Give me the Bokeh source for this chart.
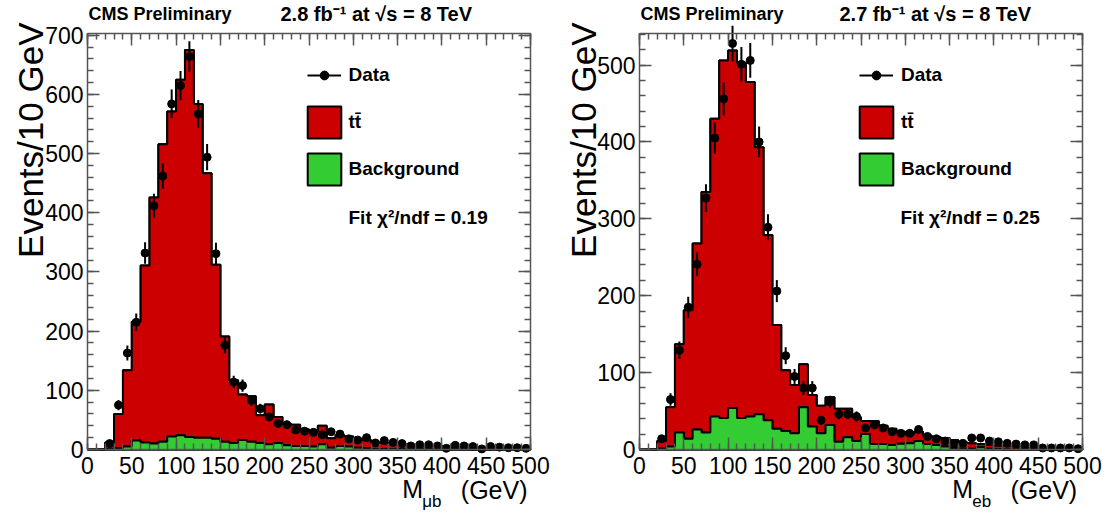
import numpy as np
from bokeh.plotting import figure
from bokeh.models import Range1d, LinearAxis, FixedTicker, Label, Legend, LegendItem
from bokeh.layouts import row
from bokeh.embed import file_html
from bokeh.resources import INLINE

# ---------------- data ----------------
bin_edges = list(range(0, 510, 10))  # 0 .. 500 GeV, 10 GeV bins

left_ttbar_plus_bkg = [0, 0, 12, 60, 134, 216, 311, 426, 516, 571,
                       625, 675, 584, 467, 312, 191, 117, 93, 90, 58,
                       76, 55, 43, 42, 34, 31, 40, 19, 24, 22,
                       18, 16, 12, 11, 11, 9, 8, 7, 6, 6,
                       5, 4, 4, 3, 3, 3, 2, 2, 2, 1]
left_background = [0, 0, 0.5, 2, 5, 15, 12, 10, 13, 22,
                   24, 21, 20, 20, 18, 13, 11, 16, 13, 11,
                   9, 11, 7, 6, 6, 5, 9, 3, 6, 5,
                   3, 2, 1, 1, 1, 1, 1, 0.5, 0.5, 0.5,
                   0.5, 0, 0, 0, 0, 0, 0, 0, 0, 0]
left_data = [0, 0, 10, 75, 163, 215, 332, 412, 462, 584,
             615, 664, 567, 494, 331, 176, 114, 108, 83, 69,
             55, 44, 42, 33, 31, 29, 25, 30, 26, 18,
             16, 20, 11, 15, 12, 10, 6, 8, 8, 6,
             2, 7, 6, 5, 1, 5, 4, 3, 3, 2]

right_ttbar_plus_bkg = [0, 0, 11, 55, 137, 181, 268, 335, 430, 506,
                        519, 503, 478, 393, 279, 162, 103, 84, 111, 71,
                        57, 68, 53, 53, 42, 37, 37, 31, 27, 23,
                        20, 23, 18, 16, 15, 12, 9, 8, 7, 6,
                        5, 5, 4, 3, 3, 2, 2, 2, 1, 1]
right_background = [0, 0, 1, 4, 22, 14, 26, 22, 43, 41,
                    54, 41, 43, 46, 38, 27, 24, 21, 55, 30,
                    21, 32, 10, 16, 11, 20, 7, 7, 6, 7.5,
                    8, 11, 7, 6, 4, 2, 1, 1, 3, 1,
                    0.5, 0, 0, 0, 0, 0, 0, 0, 0, 0]
right_data = [0, 0, 14, 65, 129, 185, 241, 327, 405, 456,
              528, 501, 506, 400, 289, 206, 122, 95, 80, 80,
              38, 62, 46, 46, 43, 28, 32, 28, 23, 21,
              21, 26, 17, 14, 11, 8, 8, 15, 15, 11,
              10, 8, 7, 6, 6, 2, 2, 2, 2, 1]

x_major_ticks = list(range(0, 550, 50))
x_minor_ticks = list(range(0, 510, 10))
left_ymax = 703
right_ymax = 541
left_y_major = list(range(0, 800, 100))
left_y_minor = list(range(0, 720, 20))
right_y_major = list(range(0, 600, 100))
right_y_minor = list(range(0, 560, 20))

# ---------------- style / layout ----------------
RED = "#cc0000"
GREEN = "#33cc33"
AX = "#555555"
FONT = "Liberation Sans"
PAGE = 0
FIG_H = 513
BOX_TOP, BOX_BOTTOM = 33, 449


def make_panel(mc, bkg, data, ymax, y_major, y_minor, page_left, fig_w, box_left, box_right, cfg):
    box_w = box_right - box_left
    box_h = BOX_BOTTOM - BOX_TOP
    fig_bottom = PAGE + FIG_H

    def gx(px):
        return (px - box_left) / box_w * 500.0

    def vy(py):
        return (BOX_BOTTOM - py) / box_h * ymax

    p = figure(width=fig_w, height=FIG_H,
               x_range=Range1d(gx(page_left), gx(page_left + fig_w)),
               y_range=Range1d(vy(fig_bottom), vy(PAGE)),
               x_axis_type=None, y_axis_type=None, title=None,
               output_backend="svg", toolbar_location=None, min_border=0,
               background_fill_color="white", border_fill_color="white")
    p.outline_line_color = None

    edges = np.array(bin_edges, dtype=float)
    mc_a = np.array(mc, dtype=float)
    bk_a = np.array(bkg, dtype=float)
    mc_y = np.append(mc_a, mc_a[-1])
    bk_y = np.append(bk_a, bk_a[-1])
    zeros = np.zeros_like(edges)

    # stacked histogram: ttbar + background (red), background (green)
    r_tt = p.quad(left=edges[:-1], right=edges[1:], bottom=0, top=mc_a,
                  fill_color=RED, line_color="black", line_width=2)
    p.varea_step(x=edges, y1=zeros, y2=mc_y, step_mode="after", fill_color=RED)
    p.step(x=edges, y=mc_y, mode="after", line_color="black", line_width=2)
    r_bk = p.quad(left=edges[:-1], right=edges[1:], bottom=0, top=bk_a,
                  fill_color=GREEN, line_color="black", line_width=2)
    p.varea_step(x=edges, y1=zeros, y2=bk_y, step_mode="after", fill_color=GREEN)
    p.step(x=edges, y=bk_y, mode="after", line_color="black", line_width=2)

    # data points with Poisson error bars
    d = np.array(data, dtype=float)
    centers = (edges[:-1] + edges[1:]) / 2.0
    m = d > 0
    xc = centers[m]
    yd = d[m]
    err = np.sqrt(yd)
    r_err = p.segment(x0=xc, y0=yd - err, x1=xc, y1=yd + err,
                      line_color="black", line_width=2)
    r_pts = p.scatter(x=xc, y=yd, size=8, marker="circle",
                      fill_color="black", line_color="black")

    # frame axes, ticks inside on all four sides
    specs = [("below", x_major_ticks, x_minor_ticks, 0, True),
             ("above", x_major_ticks, x_minor_ticks, ymax, False),
             ("left", y_major, y_minor, 0, True),
             ("right", y_major, y_minor, 500, False)]
    for loc, major, minor, fixed, show in specs:
        bounds = (0, 500) if loc in ("below", "above") else (0, ymax)
        ax = LinearAxis(ticker=FixedTicker(ticks=major, minor_ticks=minor),
                        fixed_location=fixed, bounds=bounds,
                        major_tick_in=12, major_tick_out=0,
                        minor_tick_in=6, minor_tick_out=0,
                        axis_line_color=AX, axis_line_width=1.5,
                        major_tick_line_color=AX, major_tick_line_width=1.5,
                        minor_tick_line_color=AX, minor_tick_line_width=1.5)
        if show:
            ax.major_label_text_font = FONT
            ax.major_label_text_font_size = "23px"
            ax.major_label_text_color = "black"
            ax.major_label_standoff = 7 if loc == "below" else 4
        else:
            ax.major_label_text_color = None
            ax.major_label_standoff = 0
        p.add_layout(ax, loc)

    # legends (location = bottom-left corner, relative to frame bottom-left)
    def loc(left_px, bottom_px):
        return (left_px - page_left, fig_bottom - bottom_px)

    lg_data = Legend(items=[LegendItem(label="Data", renderers=[r_err, r_pts])],
                     location=loc(cfg["leg_x"], 86), glyph_width=34, glyph_height=22,
                     label_standoff=8, padding=0, margin=0, spacing=0,
                     border_line_color=None, background_fill_alpha=0,
                     label_text_font=FONT, label_text_font_style="bold",
                     label_text_color="black", label_text_font_size="19px")
    lg_box = Legend(items=[LegendItem(label="t\u0074\u0304", renderers=[r_tt]),
                           LegendItem(label="Background", renderers=[r_bk])],
                    location=loc(cfg["leg_x"] - 4, 189), glyph_width=42, glyph_height=40,
                    label_standoff=4, padding=0, margin=0, spacing=7,
                    border_line_color=None, background_fill_alpha=0,
                    label_text_font=FONT, label_text_font_style="bold",
                    label_text_color="black", label_text_font_size="19px")
    p.add_layout(lg_data)
    p.add_layout(lg_box)

    def lab(text, px, py, size, bold=False, align="left", angle=0.0):
        p.add_layout(Label(x=gx(px), y=vy(py), text=text, text_font=FONT,
                           text_font_size=f"{size}px",
                           text_font_style="bold" if bold else "normal",
                           text_align=align, text_baseline="middle",
                           angle=angle, text_color="black"))

    # header
    hy = 13
    lab("CMS Preliminary", cfg["cms_x"], hy, 18, bold=True)
    lab(cfg["lumi"], cfg["lumi_x"], hy, 20, bold=True)
    # fit text
    lab("Fit \u03c7\u00b2/ndf = " + cfg["chi2"], cfg["fit_x"], 217, 19, bold=True)
    # y title
    lab("Events/10 GeV", cfg["ytitle_x"], 22, 35, align="right", angle=np.pi / 2)
    # x title
    lab("M", cfg["m_x"], 488, 25)
    lab(cfg["sub"], cfg["sub_x"], 501, 17)
    lab("(GeV)", cfg["gev_right"], 489, 25, align="right")
    return p


left_cfg = dict(cms_x=88, lumi="2.8 fb\u207b\u00b9 at \u221as = 8 TeV", lumi_x=280,
                chi2="0.19", fit_x=348, ytitle_x=29.5, m_x=401.7, sub="\u03bcb", sub_x=421.7,
                gev_right=527, leg_x=306.5)
right_cfg = dict(cms_x=640, lumi="2.7 fb\u207b\u00b9 at \u221as = 8 TeV", lumi_x=839,
                 chi2="0.25", fit_x=900, ytitle_x=583, m_x=951.7, sub="eb", sub_x=971.7,
                 gev_right=1076.7, leg_x=859)

p_left = make_panel(left_ttbar_plus_bkg, left_background, left_data, left_ymax,
                    left_y_major, left_y_minor, PAGE, 553, 87, 530, left_cfg)
p_right = make_panel(right_ttbar_plus_bkg, right_background, right_data, right_ymax,
                     right_y_major, right_y_minor, PAGE + 553, 554, 639, 1082, right_cfg)

layout = row(p_left, p_right)
open("out.html", "w").write(file_html(layout, INLINE))
